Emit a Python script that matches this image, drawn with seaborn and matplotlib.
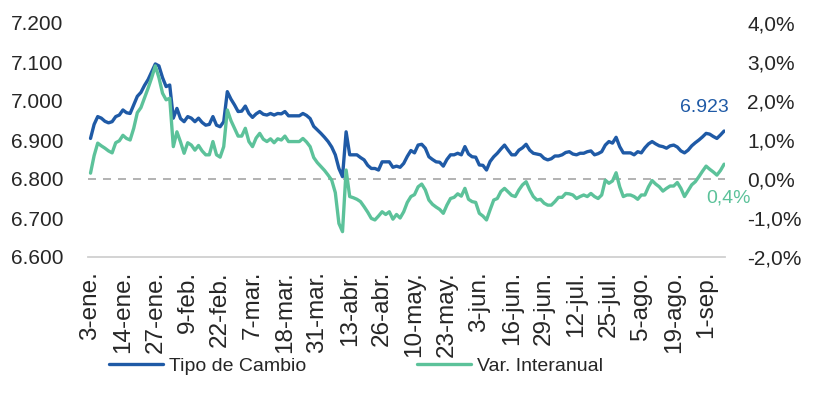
import pandas as pd
import matplotlib
matplotlib.use("Agg")
import matplotlib.pyplot as plt
import seaborn as sns
from matplotlib.ticker import FuncFormatter

# Series (business days, one every 9 days gets a tick label)
tick_labels = ["3-ene.", "14-ene.", "27-ene.", "9-feb.", "22-feb.", "7-mar.", "18-mar.",
               "31-mar.", "13-abr.", "26-abr.", "10-may.", "23-may.", "3-jun.", "16-jun.",
               "29-jun.", "12-jul.", "25-jul.", "5-ago.", "19-ago.", "1-sep."]

tipo_cambio = [
    6.904, 6.940, 6.960, 6.956, 6.948, 6.944, 6.947, 6.960, 6.964, 6.977,
    6.970, 6.968, 6.990, 7.012, 7.022, 7.040, 7.055, 7.075, 7.095, 7.090,
    7.060, 7.037, 7.041, 6.956, 6.981, 6.955, 6.947, 6.960, 6.956, 6.947,
    6.956, 6.945, 6.938, 6.940, 6.960, 6.938, 6.934, 6.947, 7.024, 7.005,
    6.990, 6.973, 6.974, 6.987, 6.968, 6.958, 6.967, 6.973, 6.966, 6.964,
    6.968, 6.964, 6.968, 6.967, 6.973, 6.962, 6.962, 6.962, 6.962, 6.968,
    6.963, 6.955, 6.935, 6.926, 6.917, 6.907, 6.896, 6.882, 6.862, 6.827,
    6.806, 6.921, 6.862, 6.862, 6.862, 6.855, 6.849, 6.835, 6.827, 6.827,
    6.823, 6.844, 6.844, 6.844, 6.830, 6.833, 6.830, 6.840, 6.858, 6.873,
    6.867, 6.887, 6.889, 6.879, 6.857, 6.850, 6.844, 6.843, 6.833, 6.850,
    6.862, 6.862, 6.866, 6.862, 6.883, 6.864, 6.857, 6.856, 6.836, 6.835,
    6.823, 6.845, 6.857, 6.866, 6.877, 6.887, 6.874, 6.862, 6.862, 6.874,
    6.880, 6.889, 6.874, 6.866, 6.864, 6.862, 6.853, 6.849, 6.852, 6.859,
    6.859, 6.862, 6.868, 6.870, 6.864, 6.862, 6.866, 6.866, 6.870, 6.872,
    6.862, 6.865, 6.870, 6.887, 6.896, 6.892, 6.907, 6.883, 6.867, 6.867,
    6.867, 6.862, 6.870, 6.867, 6.880, 6.890, 6.896, 6.890, 6.885, 6.883,
    6.879, 6.885, 6.887, 6.882, 6.872, 6.867, 6.874, 6.885, 6.893, 6.900,
    6.908, 6.917, 6.915, 6.909, 6.904, 6.913, 6.923,
]

var_interanual = [
    0.15, 0.60, 0.92, 0.85, 0.79, 0.72, 0.67, 0.93, 0.98, 1.12,
    1.04, 1.00, 1.30, 1.70, 1.83, 2.08, 2.33, 2.60, 2.90, 2.60,
    2.20, 2.03, 2.07, 0.83, 1.21, 0.95, 0.66, 0.93, 0.87, 0.74,
    0.86, 0.72, 0.62, 0.62, 0.96, 0.62, 0.56, 0.83, 1.77, 1.50,
    1.30, 1.10, 1.10, 1.30, 0.96, 0.83, 1.05, 1.17, 1.02, 0.96,
    1.03, 0.93, 1.03, 1.00, 1.10, 0.96, 0.96, 0.96, 0.96, 1.04,
    0.95, 0.83, 0.55, 0.42, 0.32, 0.22, 0.10, -0.03, -0.35, -1.14,
    -1.35, 0.23, -0.45, -0.48, -0.52, -0.58, -0.71, -0.85, -1.01, -1.05,
    -0.95, -0.84, -0.91, -0.84, -1.03, -0.91, -1.00, -0.84, -0.60, -0.45,
    -0.40, -0.20, -0.13, -0.28, -0.54, -0.65, -0.72, -0.78, -0.88, -0.67,
    -0.50, -0.47, -0.38, -0.44, -0.24, -0.52, -0.58, -0.60, -0.88, -0.95,
    -1.05, -0.79, -0.54, -0.50, -0.32, -0.24, -0.33, -0.42, -0.45, -0.28,
    -0.15, -0.07, -0.28, -0.45, -0.54, -0.52, -0.62, -0.67, -0.67, -0.58,
    -0.47, -0.47, -0.37, -0.38, -0.41, -0.50, -0.45, -0.41, -0.45, -0.37,
    -0.45, -0.50, -0.41, -0.03, -0.11, -0.05, 0.16, -0.20, -0.45, -0.41,
    -0.41, -0.45, -0.52, -0.41, -0.41, -0.20, -0.04, -0.13, -0.20, -0.31,
    -0.24, -0.18, -0.18, -0.09, -0.24, -0.45, -0.30, -0.15, -0.07, 0.06,
    0.20, 0.33, 0.25, 0.18, 0.10, 0.22, 0.38,
]

blue = "#1F5AA6"
green = "#5CC29A"

df = pd.DataFrame({"dia": range(len(tipo_cambio)),
                   "tc": tipo_cambio,
                   "var": var_interanual})

sns.set_style("white")
plt.rcParams['font.family'] = ['Liberation Sans', 'DejaVu Sans']

fig = plt.figure(figsize=(8.19, 3.97), dpi=100)
ax = fig.add_axes([88 / 819, 1 - 257 / 397, (725 - 88) / 819, (257 - 23) / 397])
ax2 = ax.twinx()

sns.lineplot(data=df, x="dia", y="tc", ax=ax, color=blue, lw=2.4, legend=False)
sns.lineplot(data=df, x="dia", y="var", ax=ax2, color=green, lw=2.4, legend=False)
ax2.axhline(0, color="#A6A6A6", lw=1.2, ls=(0, (4.8, 4.2)), zorder=0)

ax.set_xlim(-0.7, 176.25)
ax.set_ylim(6.6, 7.2)
ax2.set_ylim(-2, 4)
ax.set_yticks([6.6 + 0.1 * k for k in range(7)])
ax2.set_yticks(range(-2, 5))
ax.yaxis.set_major_formatter(FuncFormatter(lambda v, p: f"{v:.3f}"))
ax2.yaxis.set_major_formatter(FuncFormatter(lambda v, p: f"{v:.1f}%".replace(".", ",")))

ax.set_xticks(range(0, len(tipo_cambio), 9))
ax.set_xticklabels(tick_labels, rotation=90, fontsize=17.5)
ax.tick_params(axis="x", length=0, pad=10)
ax.tick_params(axis="y", length=0, pad=18, labelsize=15)
ax2.tick_params(axis="y", length=0, pad=16, labelsize=15)
ax.set_xlabel("")
ax.set_ylabel("")
ax2.set_ylabel("")

for s in ["top", "left", "right"]:
    ax.spines[s].set_visible(False)
ax.spines["bottom"].set_color("#D0D0D0")
ax.spines["bottom"].set_linewidth(1.3)
for s in ax2.spines.values():
    s.set_visible(False)

# last value labels
ax.annotate(f"{tipo_cambio[-1]:.3f}", (len(tipo_cambio) - 1, tipo_cambio[-1]),
            xytext=(-14, 17), textcoords="offset points",
            ha="center", va="center", color=blue, fontsize=14)
ax2.annotate(f"{var_interanual[-1]:.1f}%".replace(".", ","),
             (len(var_interanual) - 1, var_interanual[-1]),
             xytext=(3, -24), textcoords="offset points",
             ha="center", va="center", color=green, fontsize=14)

fig.legend([ax.lines[0], ax2.lines[0]], ["Tipo de Cambio", "Var. Interanual"],
           loc="center", bbox_to_anchor=(356 / 819, 1 - 366 / 397), ncol=2,
           frameon=False, fontsize=14, handlelength=2.8, handletextpad=0.3,
           columnspacing=5.7)

fig.savefig("out.png", dpi=100)
